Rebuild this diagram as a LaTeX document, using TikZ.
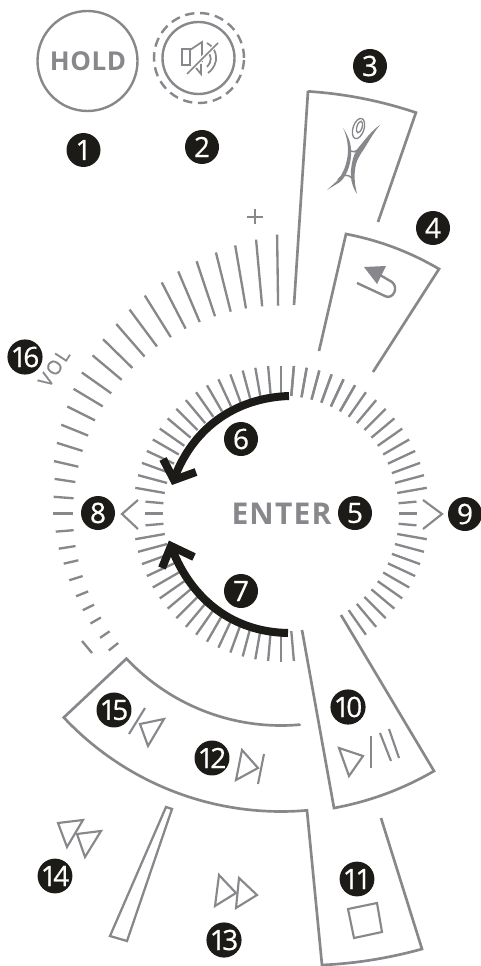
\documentclass[tikz,border=0pt]{standalone}
\usepackage{fontspec}
\setmainfont{Open Sans}
\newfontfamily\badgefont[FakeBold=0.6]{Open Sans}
\definecolor{gr}{HTML}{87888B}
\definecolor{bk}{HTML}{1D1B18}
\tikzset{
  pan/.style={draw=gr,line width=2pt,line join=miter},
  icon/.style={draw=gr,line width=1.6pt,line join=miter},
  thinicon/.style={draw=gr,line width=1.3pt,line join=miter},
  tick/.style={draw=gr,line width=1.75pt},
  bigarrow/.style={draw=bk,line width=6pt,line join=miter,miter limit=20},
  badge/.style={circle,fill=bk,text=white,minimum size=25.5pt,inner sep=0pt,font=\fontsize{21}{21}\selectfont\badgefont},
  graylabel/.style={text=gr,inner sep=0pt,font=\bfseries}
}
\newcommand{\dg}[2]{#1\kern-2.6pt#2}
\begin{document}
\begin{tikzpicture}[x=0.75pt,y=-0.75pt]
\useasboundingbox (0,0) rectangle (480,966);
% hold
\node[circle,draw=gr,line width=1.8pt,minimum size=75pt,inner sep=0pt] (hold) at (87.5,61) {};
\node[graylabel,font=\fontsize{19.5}{19.5}\selectfont\bfseries] (holdt) at (88,61.5) {\addfontfeature{LetterSpace=2}HOLD};
% mute
\node[circle,draw=gr,line width=1.8pt,minimum size=54pt,inner sep=0pt] (mute) at (198.5,58) {};
\node[circle,draw=gr,line width=1.8pt,dash pattern=on 7pt off 4.3pt,minimum size=67.5pt,inner sep=0pt] (muteo) at (199,58) {};
\draw[thinicon] (182,49) rectangle (190,65);
\draw[thinicon] (190,50) -- (202,42) -- (202,62);
\draw[thinicon] (196,68) -- (201,74) -- (201,64);
\draw[thinicon] (207,43) .. controls (218,49) and (220,64) .. (208,73);
\draw[thinicon] (207,52) .. controls (212,55) and (212,62) .. (207,67);
\draw[white,line width=3pt] (190,70) -- (216,45);
\draw[thinicon] (187,74) -- (218,43);
% panel 3
\draw[pan] (294,305) -- (308,91) -- plot[domain=86.35:71.4,samples=30]({281+423*cos(\x)},{513.5-423*sin(\x)}) -- (378,222);
\fill[gr] (343,128) .. controls (347,136) and (348,145) .. (348,152) .. controls (347,165) and (343,173) .. (338,180) -- (327,190) -- (340,182) .. controls (348,175) and (352,160) .. (351,150) .. controls (351,142) and (347,134) .. (343,128) -- cycle;
\fill[gr] (380,125) .. controls (371,131) and (364,141) .. (359,147) .. controls (354,153) and (352,160) .. (351,170) .. controls (350,180) and (353,188) .. (357,194) .. controls (355,186) and (354,178) .. (355,170) .. controls (356,160) and (360,155) .. (364,149) .. controls (369,141) and (374,132) .. (380,125) -- cycle;
\draw[gr,line width=1.1pt] (349,149) .. controls (352,153) and (356,153) .. (360,147);
\draw[gr,line width=1.1pt] (338,180) .. controls (342,174) and (348,174) .. (352,178);
\draw[gr,line width=1pt,rotate around={-18:(358.5,128.5)}] (358.5,128.5) ellipse (5.5 and 10.5);
\draw[gr,line width=1pt,rotate around={-18:(359.5,127)}] (359.5,127) ellipse (2.6 and 6);
% panel 4
\draw[pan] (319,351) -- (346,234) .. controls (379,240.3) and (410,251.9) .. (439,269) -- (373,372);
\draw[icon,line width=1.8pt] (357,283) -- (386,296.5) .. controls (393,299) and (399,288) .. (392,282) -- (380,275);
\fill[gr] (364,267) -- (386,266) -- (377,284) -- cycle;
% plus
\draw[icon] (247,217) -- (263,217);
\draw[icon] (255,209) -- (255,224);
% outer ticks
\foreach \a/\r in {90.8/279,95.2/275,99.7/272,104/269,108.5/266,113/263,117.3/260,122/257,126.6/254,131/251,135.6/249,140/246,144.7/244,149/242,153.4/239,158/237,162.5/235,167/233,171.3/229,175.8/228,180/228,184.6/226,189/225,193/223,197.5/222,202/221,206/220.5,210/220,214.5/219.5,218.5/220}
  \draw[tick] ({281+208*cos(\a)},{513.5-208*sin(\a)}) -- ({281+\r*cos(\a)},{513.5-\r*sin(\a)});
\draw[tick] (82,641) -- (92,653);
\node[text=gr,inner sep=0pt,rotate=57,font=\fontsize{14.5}{14.5}\selectfont\badgefont] (vol) at (54,368) {\addfontfeature{LetterSpace=10}VOL};
% inner ticks
\foreach \a in {-85,-90,...,-300}
  \draw[tick] ({281+118*cos(\a)},{513.5-118*sin(\a)}) -- ({281+(abs(cos(\a))>0.99?136:148)*cos(\a)},{513.5-(abs(cos(\a))>0.99?136:148)*sin(\a)});
\foreach \a in {-55,-50,...,85}
  \draw[tick] ({281+118*cos(\a)},{513.5-118*sin(\a)}) -- ({281+(abs(cos(\a))>0.99?136:148)*cos(\a)},{513.5-(abs(cos(\a))>0.99?136:148)*sin(\a)});
% chevrons
\draw[icon] (138,500) -- (122,514) -- (138,529);
\draw[icon] (423,500) -- (442,514) -- (423,529);
% arrows
\draw[bigarrow] (289,396) .. controls (233,398) and (192,430) .. (174,479);
\draw[bigarrow] (163,459) -- (174,480) -- (196,472);
\draw[bigarrow] (288,633) .. controls (233,632) and (192,600) .. (172,549);
\draw[bigarrow] (162,568) -- (171,546) -- (194,557);
\node[graylabel,font=\fontsize{22.5}{22.5}\selectfont\bfseries] (enter) at (281.5,513.5) {\addfontfeature{LetterSpace=4}ENTER};
% panel 10
\draw[pan] (302,630) -- (334,808) .. controls (369.5,801.5) and (402.9,789.1) .. (434,771) -- (341,615);
\draw[icon] (339,748) -- (363,756) -- (349,776) -- cycle;
\draw[icon] (371,736) -- (371,768);
\draw[icon] (380,733) -- (391,761);
\draw[icon] (389,729) -- (399,758);
% lower panel
\draw[pan] (300,724) -- plot[domain=275:223.2,samples=50]({281+212*cos(\x)},{513.5-212*sin(\x)}) -- plot[domain=223.2:275,samples=50]({281+298*cos(\x)},{513.5-298*sin(\x)}) -- (322,965) .. controls (356,963.5) and (389.3,958) .. (422,949) -- (381,818);
\draw[icon] (348,909) -- (377,903) -- (382,932) -- (354,938) -- cycle;
\draw[icon] (145,708) -- (129,734);
\draw[icon] (140,724) -- (164,719) -- (148,746) -- cycle;
\draw[icon] (242,750) -- (258,768) -- (236,780) -- cycle;
\draw[icon] (264,754) -- (258,784);
% wedge
\draw[icon,line width=1.7pt] (166,807) -- (172,809) -- (127,941) -- (110,936) -- cycle;
% rew/ff
\draw[icon] (58,823) -- (83,820) -- (67,847) -- cycle;
\draw[icon] (77,834) -- (101,831) -- (85,857) -- cycle;
\draw[icon] (219,875) -- (236,893) -- (215,906) -- cycle;
\draw[icon] (239,878) -- (257,895) -- (236,908) -- cycle;
% badges
\node[badge] (b1) at (83.5,150) {1};
\node[badge] (b2) at (202,147) {2};
\node[badge] (b3) at (370,66) {3};
\node[badge] (b4) at (433,228) {4};
\node[badge] (b5) at (355,513) {5};
\node[badge] (b6) at (241,439) {6};
\node[badge] (b7) at (241,591) {7};
\node[badge] (b8) at (98,513) {8};
\node[badge] (b9) at (465,514) {9};
\node[badge] (b10) at (348,707) {\dg10};
\node[badge] (b11) at (357,879) {\dg11};
\node[badge] (b12) at (212,758) {\dg12};
\node[badge] (b13) at (224,940) {\dg13};
\node[badge] (b14) at (55,876) {\dg14};
\node[badge] (b15) at (114,710) {\dg15};
\node[badge] (b16) at (25,357) {\dg16};
\end{tikzpicture}
\end{document}
